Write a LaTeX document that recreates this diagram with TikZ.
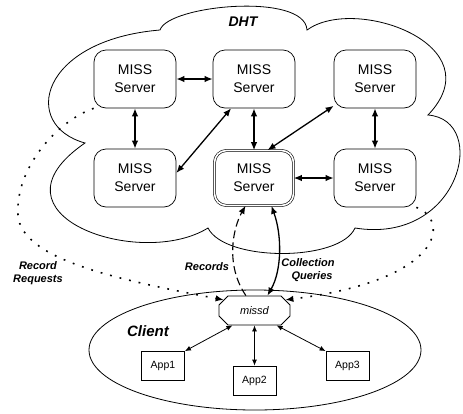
\documentclass[tikz,border=0pt]{standalone}
\usepackage{fontspec}
\setmainfont{Liberation Sans}
\usetikzlibrary{arrows.meta,shapes.misc,shapes.geometric}
\begin{document}
\begin{tikzpicture}[x=1pt,y=-1pt,
  server/.style={draw, line width=0.7pt, rounded corners=12pt, minimum width=82pt, minimum height=58pt, align=center, inner sep=0pt, font=\fontsize{14}{18}\selectfont},
  mainserver/.style={server, double, double distance=1.6pt, line width=0.6pt, minimum width=79pt, minimum height=55pt},
  appbox/.style={draw, line width=0.8pt, minimum width=43pt, minimum height=29pt, inner sep=0pt, font=\fontsize{10.5}{12}\selectfont},
  daemon/.style={draw, line width=0.8pt, chamfered rectangle, chamfered rectangle xsep=5pt, chamfered rectangle ysep=5pt, minimum width=71pt, minimum height=29pt, inner sep=0pt, fill=white, font=\fontsize{11}{13}\selectfont\itshape},
  lbl/.style={align=center, inner sep=0pt, font=\fontsize{11}{13.5}\selectfont\bfseries\itshape},
  bigarr/.style={line width=1.3pt, {Latex[length=8pt,width=6.5pt]}-{Latex[length=8pt,width=6.5pt]}},
  smallarr/.style={line width=0.8pt, {Latex[length=6pt,width=5pt]}-{Latex[length=6pt,width=5pt]}},
  dotline/.style={line width=1.6pt, dash pattern=on 1.8pt off 8pt, -{Latex[length=8pt,width=6.5pt]}},
  dashline/.style={line width=1.1pt, dash pattern=on 8pt off 4pt, -{Latex[length=8pt,width=6.5pt]}},
  cloudline/.style={line width=0.8pt}
]
\useasboundingbox (0,0) rectangle (463,413);
% DHT cloud
\draw[cloudline] (160,30) .. controls (168,5) and (305,-8) .. (307,30)
  .. controls (355,-5) and (495,45) .. (428,115)
  .. controls (490,120) and (460,245) .. (355,228)
  .. controls (340,262) and (225,262) .. (208,228)
  .. controls (140,270) and (-20,215) .. (85,143)
  .. controls (20,125) and (40,40) .. (160,30) -- cycle;
\node[font=\fontsize{14}{16}\selectfont\bfseries\itshape] (dht) at (243,22) {DHT};
% client
\node[draw, ellipse, line width=0.8pt, minimum width=332pt, minimum height=120pt, inner sep=0pt] (clientarea) at (255,350) {};
\node[font=\fontsize{15}{17}\selectfont\bfseries\itshape] (clientlbl) at (148,331) {Client};
% servers
\node[server] (s1) at (135,79) {MISS\\Server};
\node[server] (s2) at (254,79) {MISS\\Server};
\node[server] (s3) at (375,79) {MISS\\Server};
\node[server] (s4) at (135,178) {MISS\\Server};
\node[mainserver] (s5) at (254,178) {MISS\\Server};
\node[server] (s6) at (375,178) {MISS\\Server};
% daemon and apps
\node[daemon] (missd) at (254.5,310.5) {missd};
\node[appbox] (app1) at (163,366) {App1};
\node[appbox] (app2) at (254.5,380.5) {App2};
\node[appbox] (app3) at (347.5,366) {App3};
% server links
\draw[bigarr] (s1.east) -- (s2.west);
\draw[bigarr] (s1.south) -- (s4.north);
\draw[bigarr] (s4.7) -- (s2.232);
\draw[bigarr] (s2.south) -- (s5.north);
\draw[bigarr] (s5.64) -- (s3.213);
\draw[bigarr] (s3.south) -- (s6.north);
\draw[bigarr] (s5.east) -- (s6.west);
% client links
\draw[smallarr] (missd.214) -- (app1.north east);
\draw[smallarr] (missd.south) -- (app2.north);
\draw[smallarr] (missd.326) -- (app3.north west);
% DHT <-> missd
\draw[dotline] (s1.south west) .. controls (55,122) and (15,170) .. (18,215)
  .. controls (21,260) and (120,280) .. (missd.161);
\draw[dotline] (s6.south east) .. controls (450,220) and (445,280) .. (missd.19);
\draw[dashline] (missd.120) .. controls (225,265) and (233,228) .. (s5.253);
\draw[bigarr] (missd.49) .. controls (282,270) and (282,235) .. (s5.302);
% labels
\node[lbl] (lrr) at (38,273) {Record\\Requests};
\node[lbl] (lrec) at (207,267) {Records};
\node[lbl] (lcq) at (308,270) {Collection\\\hspace*{8pt}Queries};
\end{tikzpicture}
\end{document}
